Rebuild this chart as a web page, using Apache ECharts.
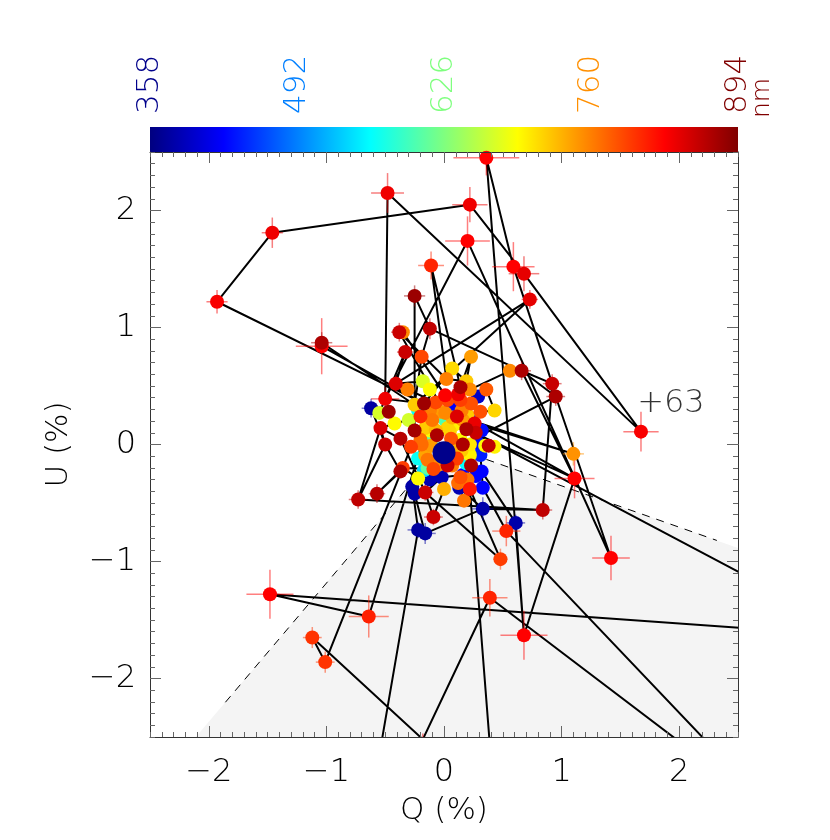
<!DOCTYPE html>
<html><head><meta charset="utf-8">
<style>html,body{margin:0;padding:0;background:#fff}#c{width:830px;height:840px}</style>
<script src="https://cdn.jsdelivr.net/npm/echarts@6/dist/echarts.min.js"></script>
</head><body><div id="c"></div>
<script>
var FONT='"DejaVu Sans", sans-serif';
var majorTicks=[-2,-1,0,1,2];
var barTicks=[358,492,626,760,894];
var barTickColors=['#00008b','#007fff','#7fff7f','#ff8f00','#800000'];
var jetColors=['#000080','#0000ff','#007fff','#00ffff','#7fff7f','#ffff00','#ff7f00','#ff0000','#800000'];
var qv=[-1.93,-1.46,.22,.68,1.675,-.48,-.50,.20,1.42,.95,1.11,.68,.36,.59,.92,.84,-.73,-.57,.73,.66,.56,1.10,-.11,-.25,-.12,-1.04,-1.04,-.38,-.35,-.33,-.19,.23,.07,-1.48,-.64,-1.12,-1.01,.39,.48,.53,.61,.33,-.22,-.16,-.09,.17,.22,.33,0,.13,-.16,-.25,-.27,-.22,-.35,-.37,.32,.23,.14,.12,.20,-.09,.03,.11,.07,-.03,.38,.43,.35,.16,.06,-.06,.27,.26,.19,.11,-.25,-.37,-.50,-.54,-.28,-.19,-.11,-.42,-.30,-.55,-.47,-.62,-.41,-.31,-.18,-.12,.02,.19,.29,.36,.22,.14,.12,.01,.03,.14,.23,.31,.43,-.17,-.07,-.20,-.10,.01,.15,-.25,-.22,-.22,-.14,.19,-.10,.01,.06,.22,.29,-.02,.16,.31,-.17,-.07,.09,.03,.14,.22,-.12,-.16,-.03,.09,-.18,2.84,3.54,-.69,.46,-.03,-.12,.07,.16,.20,-.16,-.07,.05,.15,.22,.05,-.06,-.14,-.20,-.12,.27,.32];
var uv=[1.22,1.81,2.05,1.46,.11,2.15,.39,1.74,-.97,.41,-.29,-1.63,2.45,1.52,.52,-.56,-.47,-.42,1.24,.63,.63,-.08,1.53,1.27,.99,.87,.84,.96,.96,.79,.75,.75,.65,-1.28,-1.47,-1.65,-1.86,-1.31,-.98,-.74,-.67,-.55,-.73,-.76,-.62,-.48,-.38,-.37,-.38,-.37,-.41,-.42,-.36,-.29,-.20,-.23,-.23,-.18,-.28,-.33,-.30,-.21,-.18,-.12,-.18,-.12,-.01,-.02,-.01,0,.05,.08,.10,.18,.13,.24,.12,.05,0,.14,-.02,0,-.01,.18,.21,.27,.28,.31,.52,.47,.54,.47,.56,.54,.41,.47,.47,.49,.43,.42,.38,.38,.35,.28,.29,.35,.36,.24,.21,.27,.29,.34,.29,-.12,-.20,-.16,.04,.21,.32,.21,.01,-.28,-.26,-.09,-.22,.29,.17,.14,.04,-.09,.12,-.09,-.05,-.05,-2.52,-3.18,-1.64,-3.47,-3.47,.28,.29,.23,.21,.25,.14,.12,.11,-.05,0,-.12,-.18,-.13,.04,-.30,-.27,.12];
var wavelengths=[830,835,835,840,830,835,835,827,827,870,827,827,827,827,856,860,860,865,840,870,755,750,808,880,860,870,827,855,755,855,790,745,712,827,810,800,800,808,795,808,380,380,375,375,855,765,815,425,735,385,855,378,378,695,795,870,425,870,785,770,765,790,855,795,760,730,860,700,695,870,785,870,855,838,870,845,875,865,855,848,795,770,745,695,670,672,878,376,845,760,675,695,760,720,395,780,755,870,835,828,790,795,785,785,715,878,790,805,765,755,760,720,559,565,610,560,610,600,420,430,430,385,425,440,540,710,700,715,695,700,690,740,725,735,830,830,830,375,815,745,760,735,745,720,720,730,715,720,705,745,750,765,770,385,425,430];
var errQ=[.09,.09,.15,.13,.15,.14,.12,.19,.16,.08,.17,.2,.28,.18,.08,.08,.08,.07,.07,.08,.05,.09,.11,.09,.04,.09,.22,.07,.04,.07,.04,.04,.03,.2,.17,.08,.08,.15,.06,.12,.08,.09,.09,.09,.08,.04,.08,.05,.04,.04,.07,.04,.04,.04,.04,.06,.05,.04,.04,.04,.04,.04,.04,.04,.04,.04,.05,.04,.04,.04,.04,.04,.04,.04,.04,.04,.05,.05,.05,.05,.04,.04,.04,.04,.04,.04,.05,.08,.07,.04,.04,.04,.04,.04,.04,.04,.04,.04,.04,.04,.04,.04,.04,.04,.04,.05,.04,.04,.04,.04,.04,.04,.03,.03,.03,.03,.03,.03,.03,.03,.03,.03,.03,.03,.03,.03,.03,.03,.03,.03,.03,.03,.03,.03,.05,.05,.05,.05,.05,.03,.03,.03,.03,.03,.03,.03,.03,.03,.03,.03,.03,.03,.03,.03,.03,.03];
var errU=[.1,.13,.15,.15,.17,.17,.1,.21,.19,.08,.17,.21,.15,.21,.08,.08,.08,.08,.08,.08,.04,.1,.12,.09,.09,.09,.24,.08,.04,.05,.04,.04,.03,.21,.18,.09,.09,.16,.09,.13,.07,.1,.07,.09,.07,.04,.04,.05,.04,.04,.07,.04,.04,.04,.04,.05,.05,.04,.04,.04,.04,.04,.04,.04,.04,.04,.05,.04,.04,.04,.04,.04,.04,.04,.04,.04,.05,.05,.05,.05,.04,.04,.04,.04,.04,.04,.05,.08,.07,.04,.04,.04,.04,.04,.04,.04,.04,.04,.04,.04,.04,.04,.04,.04,.04,.05,.04,.04,.04,.04,.04,.04,.03,.03,.03,.03,.03,.03,.03,.03,.03,.03,.03,.03,.03,.03,.03,.03,.03,.03,.03,.03,.03,.03,.05,.05,.05,.05,.05,.03,.03,.03,.03,.03,.03,.03,.03,.03,.03,.03,.03,.03,.03,.03,.03,.03];
var chains=[
[105,0,1,2,3,4,5,6,7,8,9,69],
[9,19,14,13,12,11,10,74],[10,119,21,73],[19,10],[19,24,23,76],
[14,15,16,79,77,50,44,48],[15,41,43,51],[41,49],[42,52],[43,42,137],
[11,40,56],[18,88,29,6],[18,111,25],[26,105],[22,92],[22,97],[24,30,111],
[27,92],[28,99],[27,109],[20,100],
[33,34,81],[33,136,72],[36,35,134,37,135,39,47],[36,80],[38,50],[38,46,138],
[16,78,55,17,54],
[87,85,86,83,84,105,111,107,108,109,117,126,127,116,130,76,71,82,132,65,64,62,63,70,128,69,133,129,115,57,58,60,46,47,56,123,120,66,68,67,72,73,75,110,118,101,102,103,104,95,94,96,98,99,100,106,89,88,90,91,92,93,97,98,31,93,32,105],
[6,85],[6,105],[87,78,79,83],[53,52,51,50,121,122,59,45,46],[53,54,61,124,114,113,131,82]
];
var meanPoint=[0,-.07];
var wedgeQ=[0,-2.11,2.5,2.5];
var wedgeU=[0,-2.5,-2.5,-.885];
var dashQ=[0,-1.89,null,0,2.32];
var dashU=[0,-2.24,null,0,-.82];
var noteText=[1.93,.345,'+63'];

var rows=qv.map(function(q,i){return [q,uv[i],errQ[i],errU[i],wavelengths[i]];});
rows.sort(function(a,b){return a[4]-b[4];});
var lineData=[];
chains.forEach(function(ch){ch.forEach(function(i){lineData.push([qv[i],uv[i]]);});lineData.push(['-','-']);});
var dashData=dashQ.map(function(q,i){return q===null?['-','-']:[q,dashU[i]];});
var wedgeData=wedgeQ.map(function(q,i){return [q,wedgeU[i]];});

function fmt(v){return v<0?'\u2212'+Math.abs(v):String(v);}
function majorX(pos,labels){return {type:'value',gridIndex:0,position:pos,min:-2.5,max:2.5,z:8,
  axisLine:{show:true,onZero:false,lineStyle:{color:'#333',width:1}},
  axisTick:{show:true,inside:true,length:11,customValues:majorTicks,lineStyle:{color:'#666',width:1}},
  axisLabel:labels?{show:true,customValues:majorTicks,margin:20,fontFamily:FONT,fontWeight:200,fontSize:32,color:'#000',formatter:fmt}:{show:false},
  splitLine:{show:false}};}
function minorA(pos){return {type:'value',gridIndex:0,position:pos,min:-2.5,max:2.5,interval:.1,z:8,
  axisLine:{show:false,onZero:false},
  axisTick:{show:true,inside:true,length:5,lineStyle:{color:'#666',width:1}},
  axisLabel:{show:false},splitLine:{show:false}};}
var xa=[majorX('bottom',true),majorX('top',false),minorA('bottom'),minorA('top')];
xa[0].name='Q (%)';xa[0].nameLocation='middle';xa[0].nameGap=58;
xa[0].nameTextStyle={fontFamily:FONT,fontWeight:200,fontSize:31,color:'#000'};
var ya=[majorX('left',true),majorX('right',false),minorA('left'),minorA('right')];
ya[0].axisLabel.margin=14;
ya[0].name='U (%)';ya[0].nameLocation='middle';ya[0].nameGap=76;ya[0].nameRotate=90;
ya[0].nameTextStyle={fontFamily:FONT,fontWeight:200,fontSize:31,color:'#000'};
xa.push({type:'value',gridIndex:1,position:'top',min:358,max:894,
  axisLine:{show:false},axisTick:{show:false},splitLine:{show:false},
  axisLabel:{show:true,customValues:barTicks,rotate:90,margin:13,fontFamily:FONT,fontWeight:200,fontSize:31,
    color:function(v){return barTickColors[barTicks.indexOf(Number(v))];}}});
ya.push({type:'value',gridIndex:1,min:0,max:1,show:false});

var barStops=jetColors.map(function(c,i){return {offset:i/(jetColors.length-1),color:c};});
var chart=echarts.init(document.getElementById('c'),null,{renderer:'canvas'});
chart.setOption({
 animation:false,backgroundColor:'#fff',
 grid:[{left:150,top:152,width:588,height:585,containLabel:false},
       {left:150,top:127,width:588,height:25,containLabel:false}],
 xAxis:xa,yAxis:ya,
 visualMap:{type:'continuous',show:false,min:358,max:894,dimension:4,seriesIndex:[3,4],inRange:{color:jetColors}},
 graphic:[{type:'text',rotation:Math.PI/2,x:762,y:98,style:{text:'nm',fill:'#800000',font:'200 25px '+FONT,textAlign:'center',textVerticalAlign:'middle'}}],
 series:[
  {type:'custom',name:'wedge',coordinateSystem:'cartesian2d',data:wedgeData,z:1,clip:true,silent:true,
   renderItem:function(p,api){ if(p.dataIndex!==0) return {type:'group',children:[]};
     return {type:'polygon',shape:{points:wedgeData.map(function(d){return api.coord(d);})},style:{fill:'#f4f4f4'}};}},
  {type:'line',name:'limits',data:dashData,showSymbol:false,silent:true,z:2,clip:true,connectNulls:false,
   lineStyle:{color:'#000',width:1,type:[8,7]}},
  {type:'line',name:'path',data:lineData,showSymbol:false,silent:true,z:3,clip:true,connectNulls:false,
   lineStyle:{color:'#000',width:2}},
  {type:'custom',name:'errors',coordinateSystem:'cartesian2d',data:rows,z:4,clip:true,silent:true,
   encode:{x:0,y:1},
   renderItem:function(p,api){
     var q=api.value(0),u=api.value(1),eq=api.value(2),eu=api.value(3),c=api.visual('color');
     var a=api.coord([q-eq,u]),b=api.coord([q+eq,u]),d=api.coord([q,u-eu]),e=api.coord([q,u+eu]);
     var st={stroke:c,lineWidth:1.5,opacity:.5};
     return {type:'group',children:[
       {type:'line',shape:{x1:a[0],y1:a[1],x2:b[0],y2:b[1]},style:st},
       {type:'line',shape:{x1:d[0],y1:d[1],x2:e[0],y2:e[1]},style:st}]};}},
  {type:'scatter',name:'points',data:rows,symbolSize:14,z:5,clip:true,silent:true,encode:{x:0,y:1},itemStyle:{opacity:1}},
  {type:'scatter',name:'mean',data:[meanPoint],symbolSize:23,z:6,silent:true,itemStyle:{color:'#00008b',opacity:1}},
  {type:'scatter',name:'note',data:[noteText],symbolSize:0,z:7,silent:true,
   label:{show:true,position:'inside',formatter:function(){return noteText[2];},fontFamily:FONT,fontWeight:200,fontSize:32,color:'#000'}},
  {type:'custom',name:'colorbar',coordinateSystem:'cartesian2d',xAxisIndex:4,yAxisIndex:4,data:[[358,0,894,1]],silent:true,clip:false,
   renderItem:function(p,api){
     var a=api.coord([api.value(0),api.value(3)]),b=api.coord([api.value(2),api.value(1)]);
     return {type:'rect',shape:{x:a[0],y:a[1],width:b[0]-a[0],height:b[1]-a[1]},
       style:{fill:new echarts.graphic.LinearGradient(0,0,1,0,barStops)}};}}
 ]
});
</script></body></html>
